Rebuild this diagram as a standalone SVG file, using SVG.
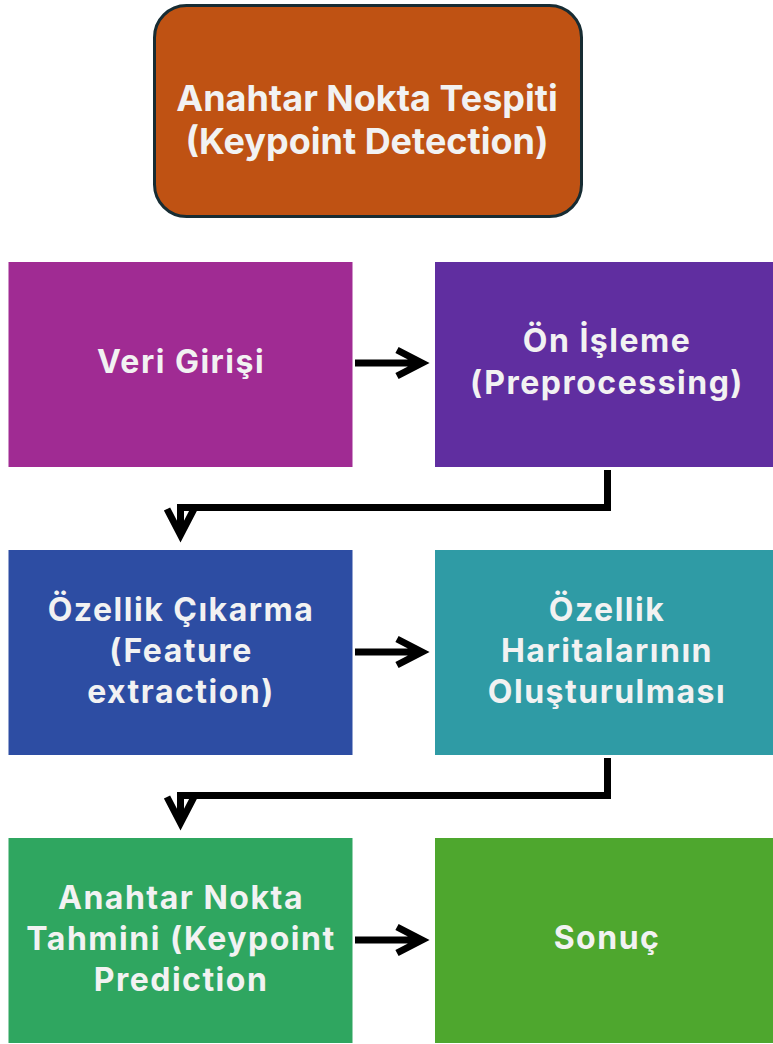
<svg xmlns="http://www.w3.org/2000/svg" width="773" height="1044" viewBox="0 0 773 1044">
<style>
.t{font-family:Inter,"Open Sans","Liberation Sans",sans-serif;font-weight:700;font-size:32px;letter-spacing:1.5px;fill:#F2F2F2;text-anchor:middle}
.big{font-size:36px;letter-spacing:0}
.c{fill:none;stroke:#000;stroke-width:7;stroke-linejoin:miter}
</style>
<rect width="773" height="1044" fill="#fff"/>
<g id="title">
<rect x="154.5" y="5.5" width="427" height="211" rx="32" fill="#BF5213" stroke="#172C33" stroke-width="3"/>
<text class="t big" x="367" y="111">Anahtar Nokta Tespiti</text>
<text class="t big" x="367" y="154">(Keypoint Detection)</text>
</g>
<g id="veri">
<rect x="8.5" y="262" width="344" height="205" fill="#A02B93"/>
<text class="t" x="181" y="373">Veri Girişi</text>
</g>
<g id="onisleme">
<rect x="435" y="262" width="338" height="205" fill="#602EA0"/>
<text class="t" x="607" y="352">Ön İşleme</text>
<text class="t" x="607" y="394">(Preprocessing)</text>
</g>
<g id="ozellik">
<rect x="8.5" y="550" width="344" height="205" fill="#2D4DA3"/>
<text class="t" x="181" y="621">Özellik Çıkarma</text>
<text class="t" x="181" y="662">(Feature</text>
<text class="t" x="181" y="703">extraction)</text>
</g>
<g id="harita">
<rect x="435" y="550" width="338" height="205" fill="#2F9BA5"/>
<text class="t" x="607" y="621">Özellik</text>
<text class="t" x="607" y="662">Haritalarının</text>
<text class="t" x="607" y="703">Oluşturulması</text>
</g>
<g id="tahmin">
<rect x="8.5" y="838" width="344" height="205" fill="#2FA660"/>
<text class="t" x="181" y="909">Anahtar Nokta</text>
<text class="t" x="181" y="950">Tahmini (Keypoint</text>
<text class="t" x="181" y="991">Prediction</text>
</g>
<g id="sonuc">
<rect x="435" y="838" width="338" height="205" fill="#4EA72E"/>
<text class="t" x="607" y="949">Sonuç</text>
</g>
<g id="connectors">
<path class="c" d="M355 363H420M397 350L422 363L397 376"/>
<path class="c" d="M355 652H420M397 639L422 652L397 665"/>
<path class="c" d="M355 940H420M397 927L422 940L397 953"/>
<path class="c" d="M607.5 470V507.5H180.5V533M167 509L180.5 535L194 509"/>
<path class="c" d="M607.5 758V795.5H180.5V821M167 797L180.5 823L194 797"/>
</g>
</svg>
